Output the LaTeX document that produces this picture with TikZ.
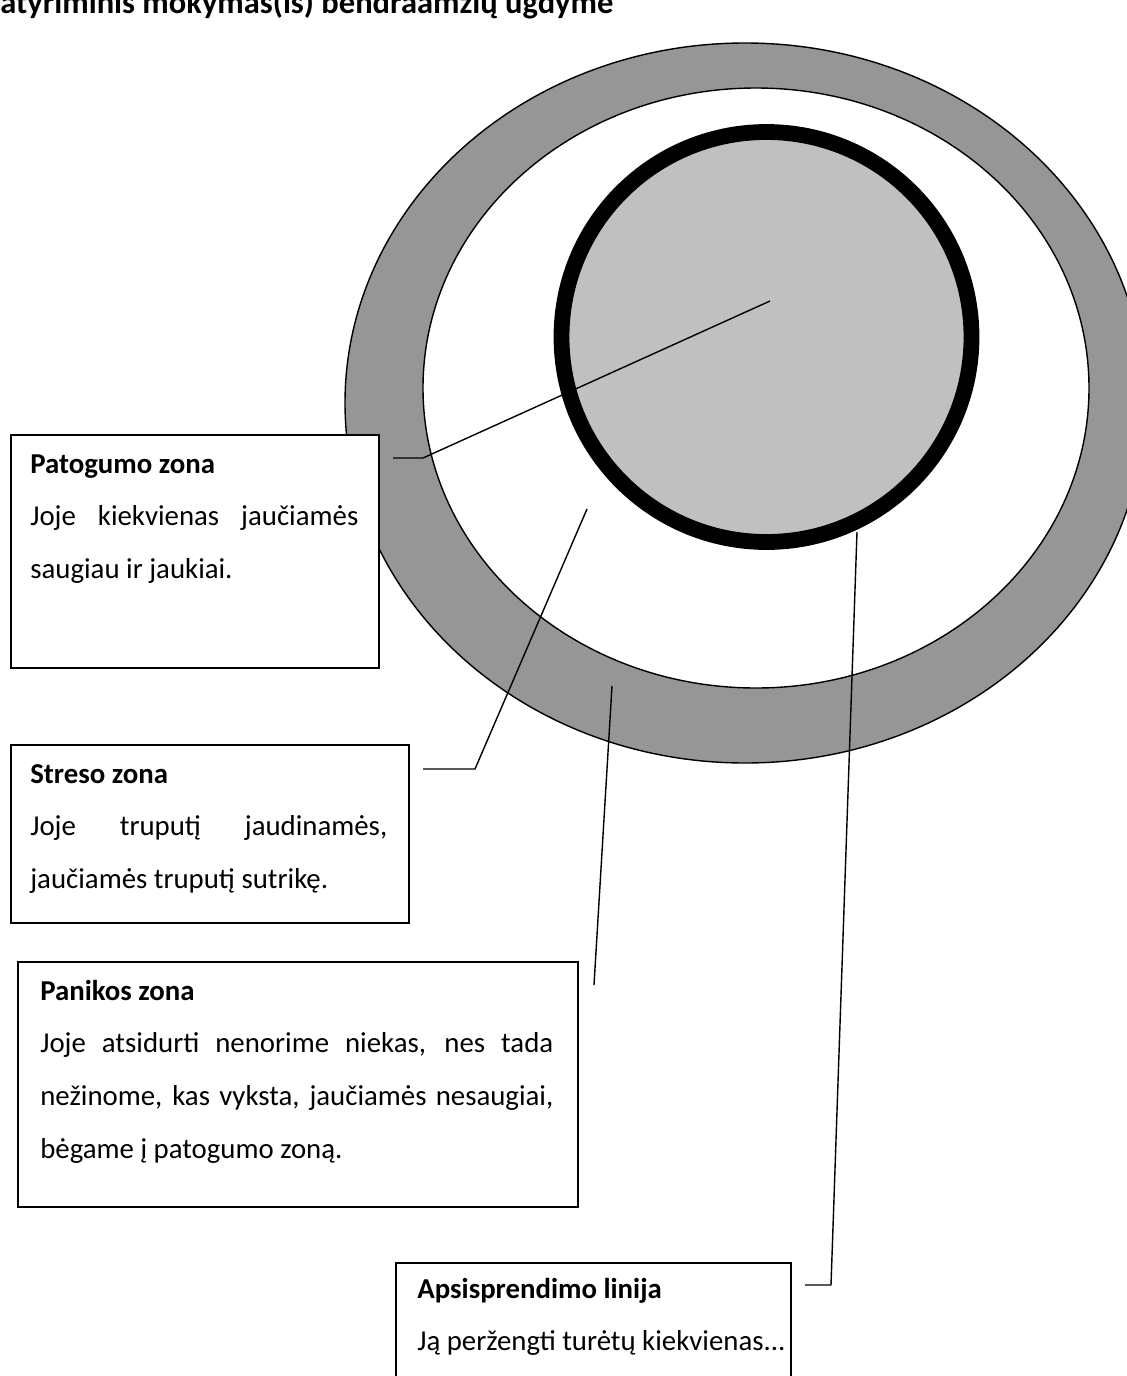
\documentclass[tikz,border=0pt]{standalone}
\usepackage{fontspec}
\setmainfont{Carlito}
\definecolor{ringgray}{RGB}{150,150,150}
\definecolor{coregray}{RGB}{192,192,192}
\tikzset{
	zonebox/.style={draw, fill=white, line width=1.1pt, anchor=north west, inner sep=0pt},
	zonetext/.style={anchor=north west, inner sep=0pt, align=justify, font=\fontsize{16.4}{30}\selectfont},
	pointer/.style={line width=0.8pt}
}
\begin{document}
\begin{tikzpicture}[x=0.02cm, y=-0.02cm]
	\useasboundingbox (0,0) rectangle (1126,1376);
	\node[anchor=base west, inner sep=0pt, font=\fontsize{18.5}{30}\selectfont\bfseries] (title) at (0,13) {atyriminis mokymas(is) bendraamžių ugdyme};
	% zonos
	\draw[fill=ringgray, line width=0.8pt] (745,403) ellipse [x radius=400, y radius=360];
	\draw[fill=white, line width=0.8pt] (756,388) ellipse [x radius=333, y radius=300];
	\draw[fill=coregray, line width=9pt] (766.5,337) circle [radius=205];
	% langeliai
	\node[zonebox, minimum width=7.36cm, minimum height=4.66cm] (patbox) at (10,434) {};
	\node[zonetext, text width=6.56cm] (pattext) at (30,436) {\strut\textbf{Patogumo zona}\\
		Joje kiekvienas jaučiamės\linebreak saugiau ir jaukiai.};
	\node[zonebox, minimum width=7.96cm, minimum height=3.56cm] (strbox) at (10,744) {};
	\node[zonetext, text width=7.14cm] (strtext) at (30,746) {\strut\textbf{Streso zona}\\
		Joje truputį jaudinamės,\linebreak jaučiamės truputį sutrikę.};
	\node[zonebox, minimum width=11.2cm, minimum height=4.9cm] (panbox) at (17,961) {};
	\node[zonetext, text width=10.26cm] (pantext) at (40,963) {\strut\textbf{Panikos zona}\\
		Joje atsidurti nenorime niekas, nes tada\linebreak nežinome, kas vyksta, jaučiamės nesaugiai,\linebreak bėgame į patogumo zoną.};
	\node[zonebox, minimum width=7.9cm, minimum height=4cm] (apsbox) at (395,1262) {};
	\node[zonetext, align=left] (apstext) at (417,1261) {\strut\textbf{Apsisprendimo linija}\\
		Ją peržengti turėtų kiekvienas...};
	% rodyklės
	\coordinate (core) at (770,301);
	\coordinate (patknee) at (423,458);
	\coordinate (patend) at (393,458);
	\coordinate (strtip) at (587,509);
	\coordinate (strknee) at (475,769);
	\coordinate (strend) at (423,769);
	\coordinate (pantip) at (612,686);
	\coordinate (panend) at (594,985);
	\coordinate (apstip) at (857,532);
	\coordinate (apsknee) at (831,1285);
	\coordinate (apsend) at (805,1285);
	\draw[pointer] (core) -- (patknee) -- (patend);
	\draw[pointer] (strtip) -- (strknee) -- (strend);
	\draw[pointer] (pantip) -- (panend);
	\draw[pointer] (apstip) -- (apsknee) -- (apsend);
\end{tikzpicture}
\end{document}
